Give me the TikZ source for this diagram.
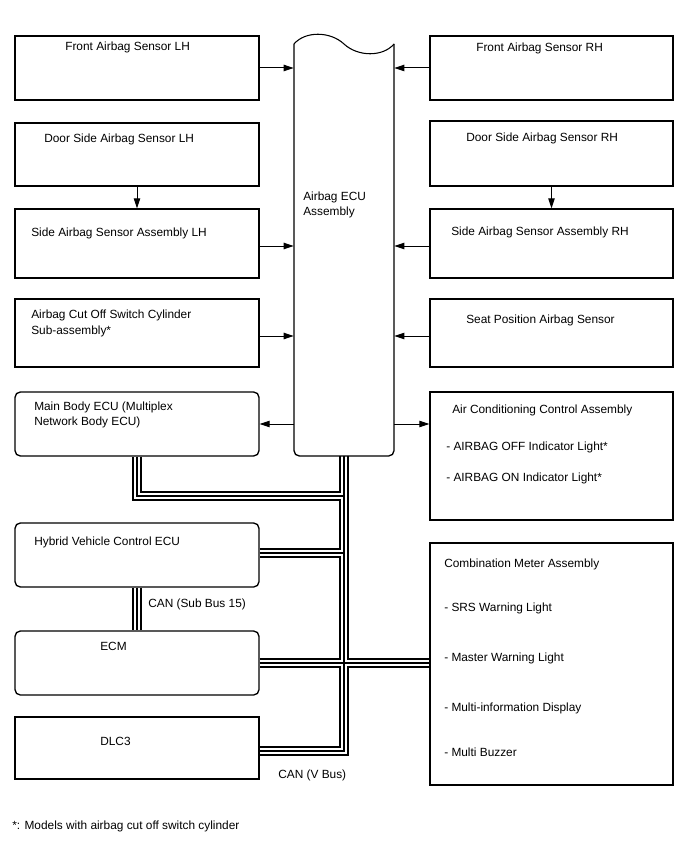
\documentclass[tikz,border=0pt]{standalone}
\usepackage{fontspec}
\setmainfont{Liberation Sans}
\usetikzlibrary{arrows.meta,fit}
\pgfdeclarelayer{bg}
\pgfsetlayers{bg,main}
\newcommand\drawmybus[1]{%
  \draw[#1] (mb.south) |- (j1);
  \draw[#1] (ecu.south) -- (j2) -- (dlc.east |- j2);
  \draw[#1] (hv.east |- 0,553) -- (ecu.south |- 0,553);
  \draw[#1] (ecm.east) -- (cm.west |- ecm.east);
  \draw[#1] (hv.south) -- (ecm.north);
}
\begin{document}
\begin{tikzpicture}[x=0.75pt,y=-0.75pt,
  box/.style={draw,line width=1pt,inner sep=0pt},
  rbox/.style={box,rounded corners=4pt},
  txt/.style={anchor=base west,inner sep=0pt,font=\fontsize{8.9}{10}\selectfont},
  arr/.style={line width=0.75pt,-{Triangle[length=7.5pt,width=4.8pt]}},
  busA/.style={line width=7pt,black},
  busB/.style={line width=4.2pt,white},
  busC/.style={line width=0.9pt,black},
]
\useasboundingbox (0,0) rectangle (688,852);
% left column
\node[box,fit={(15,36)(259,100)}] (flh) {};
\node[box,fit={(15,123)(259,186)}] (dlh) {};
\node[box,fit={(15,209)(259,278)}] (slh) {};
\node[box,fit={(15,299)(259,367)}] (clh) {};
\node[rbox,fit={(15,392)(259,456)}] (mb) {};
\node[rbox,fit={(15,523)(259,587)}] (hv) {};
\node[rbox,fit={(15,631)(259,695)}] (ecm) {};
\node[box,fit={(15,717)(259,779)}] (dlc) {};
% right column
\node[box,fit={(430,36)(673,100)}] (frh) {};
\node[box,fit={(430,121)(673,186)}] (drh) {};
\node[box,fit={(430,209)(673,278)}] (srh) {};
\node[box,fit={(430,299)(673,367)}] (seat) {};
\node[box,fit={(430,392)(673,520)}] (ac) {};
\node[box,fit={(430,543)(673,785)}] (cm) {};
% ECU
\node[inner sep=0pt,fit={(294,35)(394,456)}] (ecu) {};
\draw[line width=1pt,rounded corners=4pt] (294,44) -- (294,456) -- (394,456) -- (394,44);
\draw[line width=0.8pt] (294,44) .. controls (305,31) and (330,31) .. (344,44) .. controls (358,57) and (383,57) .. (394,44);
% texts
\node[txt] (t1) at (65,51) {Front Airbag Sensor LH};
\node[txt] (t2) at (44,143) {Door Side Airbag Sensor LH};
\node[txt] (t3) at (31,236) {Side Airbag Sensor Assembly LH};
\node[txt] (t4) at (31,318) {Airbag Cut Off Switch Cylinder};
\node[txt] (t4b) at (31,334) {Sub-assembly*};
\node[txt] (t5) at (34,410) {Main Body ECU (Multiplex};
\node[txt] (t5b) at (34,425) {Network Body ECU)};
\node[txt] (t6) at (34,545) {Hybrid Vehicle Control ECU};
\node[txt] (t7) at (100,650) {ECM};
\node[txt] (t8) at (100,745) {DLC3};
\node[txt] (t9) at (476,52) {Front Airbag Sensor RH};
\node[txt] (t10) at (466,142) {Door Side Airbag Sensor RH};
\node[txt] (t11) at (451,235) {Side Airbag Sensor Assembly RH};
\node[txt] (t12) at (466,323) {Seat Position Airbag Sensor};
\node[txt] (t13) at (452,413) {Air Conditioning Control Assembly};
\node[txt] (t13b) at (446,450) {- AIRBAG OFF Indicator Light*};
\node[txt] (t13c) at (446,481) {- AIRBAG ON Indicator Light*};
\node[txt] (t14) at (444,567) {Combination Meter Assembly};
\node[txt] (t14b) at (444,611) {- SRS Warning Light};
\node[txt] (t14c) at (444,661) {- Master Warning Light};
\node[txt] (t14d) at (444,711) {- Multi-information Display};
\node[txt] (t14e) at (444,756) {- Multi Buzzer};
\node[txt] (t15) at (303,200) {Airbag ECU};
\node[txt] (t15b) at (303,216) {Assembly};
\node[txt] (t16) at (148,607) {CAN (Sub Bus 15)};
\node[txt] (t17) at (278,778) {CAN (V Bus)};
\node[txt] (t18) at (12,829) {*: Models with airbag cut off switch cylinder};
% arrows
\draw[arr] (flh.east) -- (flh.east -| ecu.west);
\draw[arr] (frh.west) -- (frh.west -| ecu.east);
\draw[arr] (dlh.south) -- (slh.north);
\draw[arr] (drh.south) -- (srh.north);
\draw[arr] (slh.east |- 0,246) -- (ecu.west |- 0,246);
\draw[arr] (srh.west |- 0,246) -- (ecu.east |- 0,246);
\draw[arr] (clh.east |- 0,336) -- (ecu.west |- 0,336);
\draw[arr] (seat.west |- 0,336) -- (ecu.east |- 0,336);
\draw[arr] (ecu.west |- mb.east) -- (mb.east);
\draw[arr] (ecu.east |- 0,424) -- (ac.west |- 0,424);
% bus
\coordinate (j1) at (344,496);
\coordinate (j2) at (344,751);
\begin{pgfonlayer}{bg}
\fill[white] (0,0) rectangle (688,852);
\drawmybus{busA}
\drawmybus{busB}
\drawmybus{busC}
\end{pgfonlayer}
\end{tikzpicture}
\end{document}
